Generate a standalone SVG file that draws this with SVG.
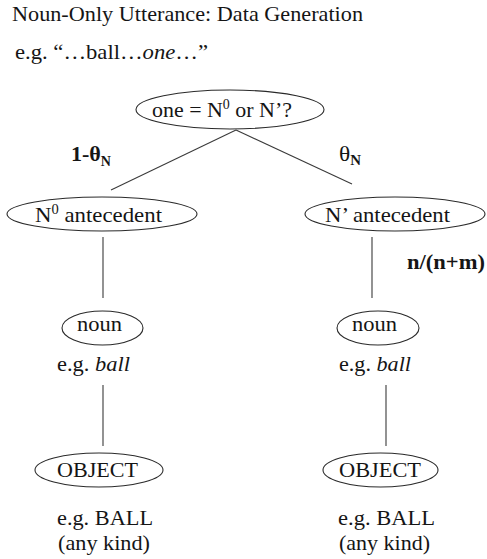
<svg xmlns="http://www.w3.org/2000/svg" width="487" height="559" viewBox="0 0 487 559">
<style>
text { font-family: "Liberation Serif", "Times New Roman", serif; font-size: 22px; fill: #151515; }
.b { font-weight: bold; }
.i { font-style: italic; }
.sup { font-size: 14px; }
.sub { font-size: 14px; font-weight: bold; }
ellipse { fill: #ffffff; stroke: #2a2a2a; stroke-width: 1.1; }
#connectors line { stroke: #3a3a3a; stroke-width: 1.1; }
</style>
<rect width="487" height="559" fill="#ffffff"/>
<g id="title">
<text x="12" y="21" textLength="351" lengthAdjust="spacingAndGlyphs">Noun-Only Utterance: Data Generation</text>
<text x="15" y="59" textLength="193" lengthAdjust="spacingAndGlyphs">e.g. “…ball…<tspan class="i">one</tspan>…”</text>
</g>
<g id="connectors">
<line x1="236" y1="130" x2="111" y2="190"/>
<line x1="236" y1="130" x2="352" y2="184"/>
<line x1="103" y1="237" x2="103" y2="298"/>
<line x1="372" y1="237" x2="372" y2="298"/>
<line x1="103" y1="385" x2="103" y2="446"/>
<line x1="386" y1="385" x2="386" y2="446"/>
</g>
<g id="edge-labels">
<text class="b" x="71" y="161" textLength="40" lengthAdjust="spacingAndGlyphs">1-θ<tspan class="sub" dy="5">N</tspan></text>
<text x="339" y="161" textLength="22" lengthAdjust="spacingAndGlyphs">θ<tspan class="sub" dy="4">N</tspan></text>
<text class="b" x="407" y="269" textLength="78" lengthAdjust="spacingAndGlyphs">n/(n+m)</text>
</g>
<g id="root">
<ellipse cx="230" cy="109.5" rx="94" ry="19.5"/>
<text x="152" y="117" textLength="140" lengthAdjust="spacingAndGlyphs">one = N<tspan class="sup" dy="-8">0</tspan><tspan dy="8"> or N’?</tspan></text>
</g>
<g id="n0-antecedent">
<ellipse cx="102" cy="214" rx="95" ry="17"/>
<text x="35" y="222" textLength="127" lengthAdjust="spacingAndGlyphs">N<tspan class="sup" dy="-8">0</tspan><tspan dy="8"> antecedent</tspan></text>
</g>
<g id="nbar-antecedent">
<ellipse cx="395" cy="214" rx="90" ry="17"/>
<text x="325" y="222" textLength="125" lengthAdjust="spacingAndGlyphs">N’ antecedent</text>
</g>
<g id="noun-left">
<ellipse cx="102.5" cy="328" rx="40.5" ry="17"/>
<text x="77" y="331" textLength="45" lengthAdjust="spacingAndGlyphs">noun</text>
<text x="57" y="371" textLength="73" lengthAdjust="spacingAndGlyphs">e.g. <tspan class="i">ball</tspan></text>
</g>
<g id="noun-right">
<ellipse cx="378" cy="328" rx="41" ry="17"/>
<text x="352" y="331" textLength="45" lengthAdjust="spacingAndGlyphs">noun</text>
<text x="339" y="371" textLength="72" lengthAdjust="spacingAndGlyphs">e.g. <tspan class="i">ball</tspan></text>
</g>
<g id="object-left">
<ellipse cx="99" cy="470" rx="64" ry="17"/>
<text x="57" y="477" textLength="81" lengthAdjust="spacingAndGlyphs">OBJECT</text>
<text x="57" y="525" textLength="96" lengthAdjust="spacingAndGlyphs">e.g. BALL</text>
<text x="58" y="550" textLength="92" lengthAdjust="spacingAndGlyphs">(any kind)</text>
</g>
<g id="object-right">
<ellipse cx="380.5" cy="470" rx="57.5" ry="17"/>
<text x="339" y="477" textLength="82" lengthAdjust="spacingAndGlyphs">OBJECT</text>
<text x="338" y="525" textLength="97" lengthAdjust="spacingAndGlyphs">e.g. BALL</text>
<text x="339" y="550" textLength="91" lengthAdjust="spacingAndGlyphs">(any kind)</text>
</g>
</svg>
